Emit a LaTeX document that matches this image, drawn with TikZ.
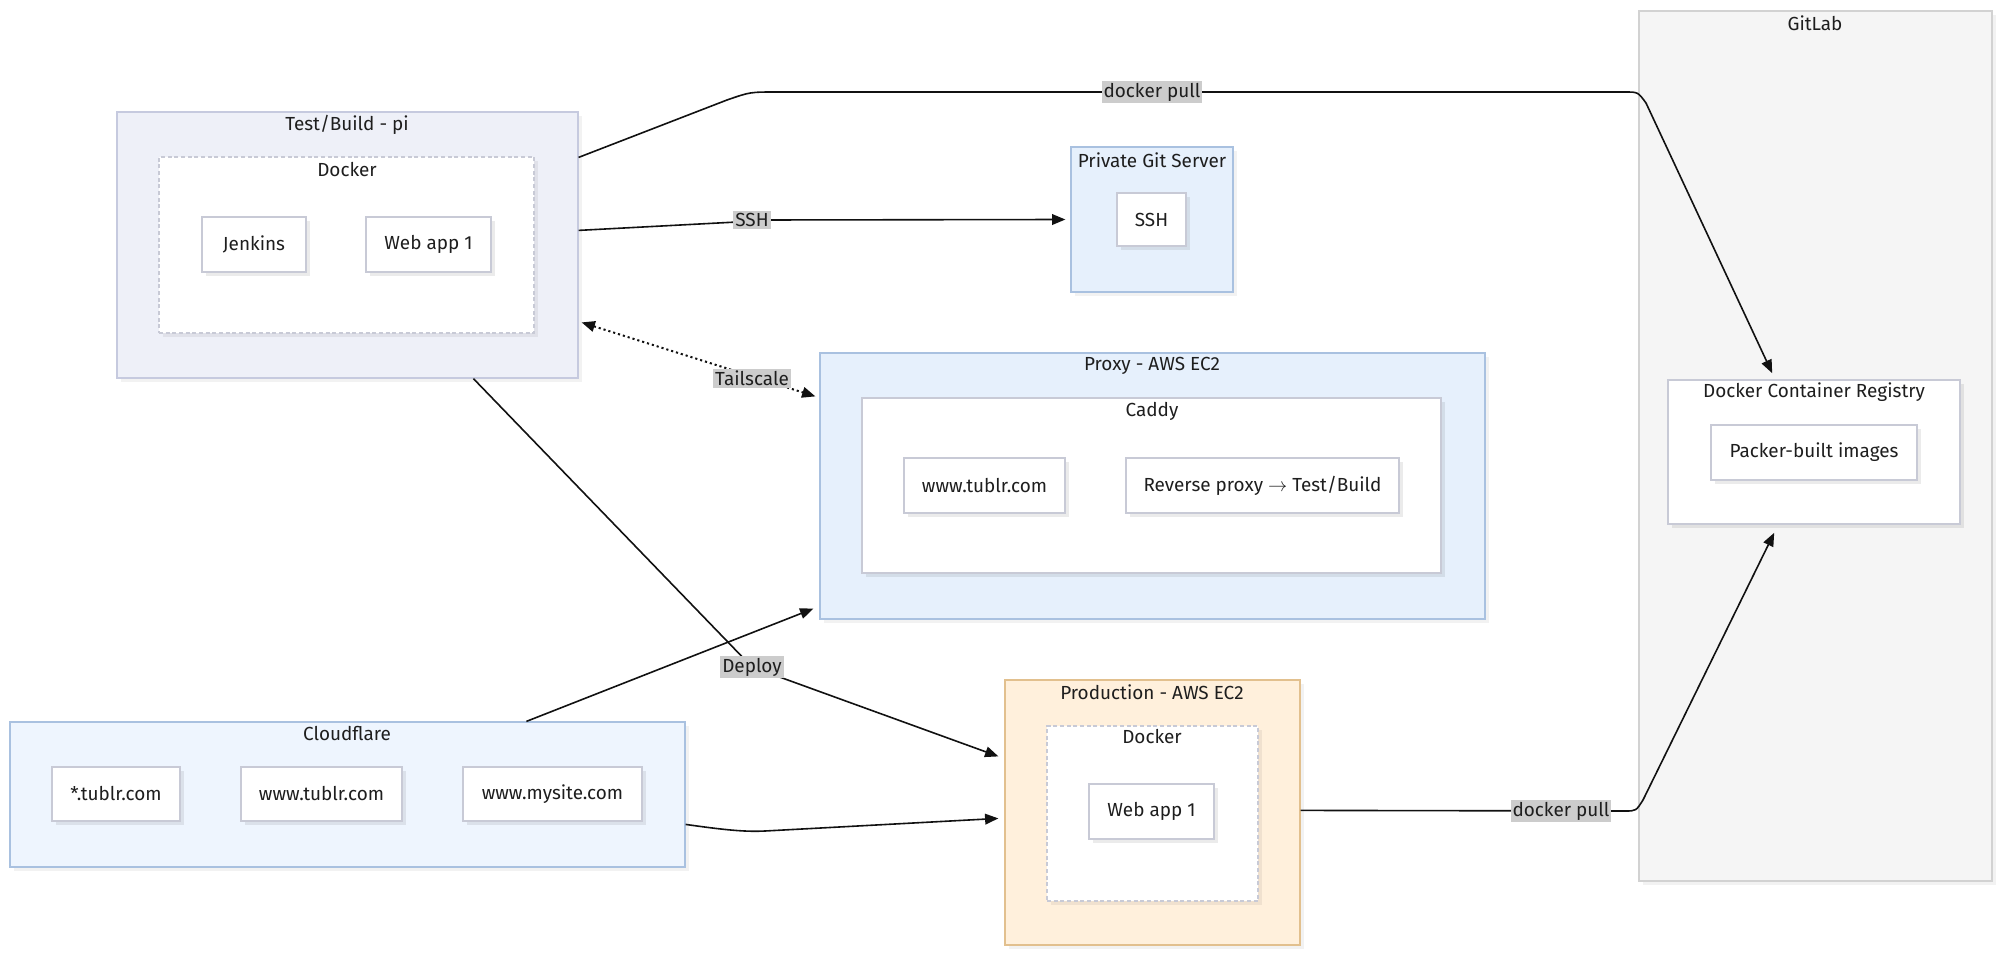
\documentclass[tikz,border=0pt]{standalone}
\usepackage{fontspec}
\setmainfont{Fira Sans}
\usetikzlibrary{arrows.meta,fit,shadows,calc}
\definecolor{tbfill}{HTML}{EEF0F8}
\definecolor{tbdraw}{HTML}{C6CADF}
\definecolor{bluefill}{HTML}{E6F0FC}
\definecolor{bluedraw}{HTML}{A9C1E0}
\definecolor{cffill}{HTML}{EEF5FE}
\definecolor{prodfill}{HTML}{FFF0DC}
\definecolor{proddraw}{HTML}{E2C08E}
\definecolor{glfill}{HTML}{F5F5F5}
\definecolor{gldraw}{HTML}{D2D2D2}
\definecolor{innerdraw}{HTML}{C8CAD6}
\definecolor{lblgray}{HTML}{CCCCCC}
\definecolor{txt}{HTML}{1E1E1E}
\definecolor{edge}{HTML}{111111}
\tikzset{
  grp/.style={draw, line width=0.9pt, inner sep=0pt,
    drop shadow={shadow xshift=3pt, shadow yshift=-3pt, fill=black, opacity=0.05}},
  innerbox/.style={draw=innerdraw, fill=white, line width=1.2pt, inner sep=0pt,
    drop shadow={shadow xshift=3pt, shadow yshift=-3pt, fill=black, opacity=0.08}},
  dockbox/.style={draw=innerdraw, fill=white, line width=1.2pt, inner sep=0pt,
    dash pattern=on 3pt off 2pt,
    drop shadow={shadow xshift=3pt, shadow yshift=-3pt, fill=black, opacity=0.06}},
  ttl/.style={inner sep=0pt, text=txt},
  lbl/.style={fill=lblgray, inner sep=1.5pt, text=txt},
  conn/.style={draw=edge, line width=1.2pt},
  tipend/.style={-{Triangle[length=10pt,width=8pt]}},
}
\begin{document}
\begin{tikzpicture}[x=0.75pt, y=-0.75pt, font=\fontsize{14.2}{16}\selectfont]
\useasboundingbox (0,0) rectangle (2000,956);

% ---------- GitLab ----------
\node[grp, draw=gldraw, fill=glfill, fit={(1639,11) (1992,881)}] (gl) {};
\node[ttl] (glT) at (1815,23) {GitLab};
\node[innerbox, fit={(1668,380) (1960,524)}] (reg) {};
\node[ttl] (regT) at (1814,392) {Docker Container Registry};
\node[innerbox, fit={(1711,425) (1917,480)}] (pk) {};
\node[ttl] (pkT) at (pk.center) {Packer-built images};

% ---------- Test/Build ----------
\node[grp, draw=tbdraw, fill=tbfill, fit={(117,112) (578,378)}] (tb) {};
\node[ttl] (tbT) at (347,125) {Test/Build - pi};
\node[dockbox, fit={(159,157) (534,333)}] (tbd) {};
\node[ttl] (tbdT) at (347,170) {Docker};
\node[innerbox, fit={(202,217) (306,272)}] (jen) {};
\node[ttl] (jenT) at (jen.center) {Jenkins};
\node[innerbox, fit={(366,217) (491,272)}] (tbw) {};
\node[ttl] (tbwT) at (tbw.center) {Web app 1};

% ---------- Private Git Server ----------
\node[grp, draw=bluedraw, fill=bluefill, fit={(1071,147) (1233,292)}] (pgs) {};
\node[ttl] (pgsT) at (1152,160) {Private Git Server};
\node[innerbox, fit={(1117,193) (1186,246)}] (pssh) {};
\node[ttl] (psshT) at (pssh.center) {SSH};

% ---------- Proxy ----------
\node[grp, draw=bluedraw, fill=bluefill, fit={(820,353) (1485,619)}] (px) {};
\node[ttl] (pxT) at (1152,366) {Proxy - AWS EC2};
\node[innerbox, fit={(862,398) (1441,573)}] (cad) {};
\node[ttl] (cadT) at (1152,411) {Caddy};
\node[innerbox, fit={(904,458) (1065,513)}] (cw) {};
\node[ttl] (cwT) at (cw.center) {www.tublr.com};
\node[innerbox, fit={(1126,458) (1399,513)}] (crp) {};
\node[ttl] (crpT) at (crp.center) {Reverse proxy $\rightarrow$ Test/Build};

% ---------- Cloudflare ----------
\node[grp, draw=bluedraw, fill=cffill, fit={(10,722) (685,867)}] (cf) {};
\node[ttl] (cfT) at (347,734) {Cloudflare};
\node[innerbox, fit={(52,767) (180,821)}] (cf1) {};
\node[ttl] (cf1T) at (cf1.center) {*.tublr.com};
\node[innerbox, fit={(241,767) (402,821)}] (cf2) {};
\node[ttl] (cf2T) at (cf2.center) {www.tublr.com};
\node[innerbox, fit={(463,767) (642,821)}] (cf3) {};
\node[ttl] (cf3T) at (cf3.center) {www.mysite.com};

% ---------- Production ----------
\node[grp, draw=proddraw, fill=prodfill, fit={(1005,680) (1300,945)}] (prod) {};
\node[ttl] (prodT) at (1152,692) {Production - AWS EC2};
\node[dockbox, fit={(1047,726) (1258,901)}] (pd) {};
\node[ttl] (pdT) at (1152,737) {Docker};
\node[innerbox, fit={(1089,784) (1214,839)}] (pw) {};
\node[ttl] (pwT) at (pw.center) {Web app 1};

% ---------- Connectors ----------
% docker pull (Test/Build -> Registry)
\draw[conn, tipend] ($(tb.north east)+(0,46)$) -- (727,100)
  .. controls (750,92) .. (777,92) -- (1625,92)
  .. controls (1638,92) .. (1646,103) -- ($(reg.north west)+(105,-6)$);
\node[lbl] (lDP1) at (1152,92) {docker pull};

% SSH
\draw[conn, tipend] ($(tb.north east)+(0,119)$) -- (737,222)
  .. controls (745,220) .. (760,220) -- ($(pgs.west)+(-5,0)$);
\node[lbl] (lSSH) at (752,220) {SSH};

% Tailscale
\draw[draw=edge, line width=1.5pt, dash pattern=on 1.6pt off 2.2pt,
  {Triangle[length=10pt,width=8pt]}-{Triangle[length=10pt,width=8pt]}]
  ($(tb.north east)+(3,211)$) -- ($(px.north west)+(-4,44)$);
\node[lbl] (lTS) at (752,378) {Tailscale};

% Deploy
\draw[conn, tipend] ($(tb.south west)+(357,0)$) -- (752,667) -- ($(prod.north west)+(-6,77)$);
\node[lbl] (lDep) at (752,667) {Deploy};

% Cloudflare -> Proxy
\draw[conn, tipend] ($(cf.north west)+(517,0)$) -- ($(px.south west)+(-6,-11)$);

% Cloudflare -> Production
\draw[conn, tipend] ($(cf.north east)+(0,103)$) .. controls (725,830) and (745,832) .. (765,831)
  -- ($(prod.north west)+(-6,139)$);

% docker pull (Production -> Registry)
\draw[conn, tipend] ($(prod.north east)+(0,131)$) -- (1625,811)
  .. controls (1636,811) .. (1643,800) -- ($(reg.south west)+(107,8)$);
\node[lbl] (lDP2) at (1561,811) {docker pull};
\end{tikzpicture}
\end{document}
